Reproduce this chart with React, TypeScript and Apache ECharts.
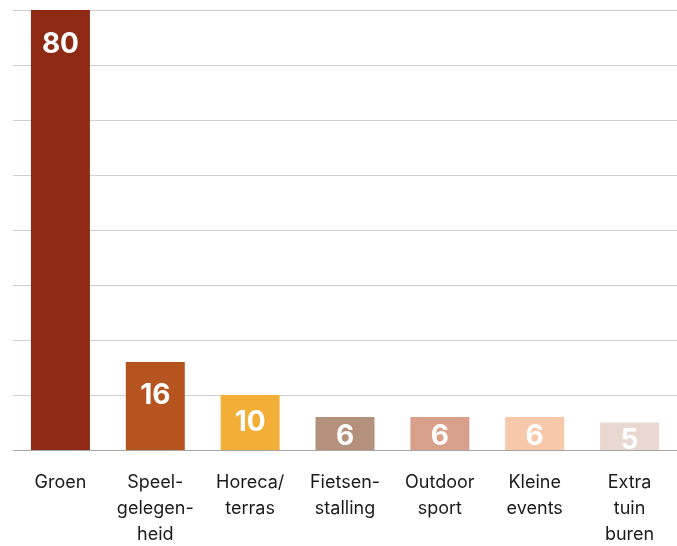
import React, { useEffect, useRef } from "react";
import * as echarts from "echarts";

const categories = [
  "Groen",
  "Speel-\ngelegen-\nheid",
  "Horeca/\nterras",
  "Fietsen-\nstalling",
  "Outdoor\nsport",
  "Kleine\nevents",
  "Extra\ntuin\nburen",
];
const values = [80, 16, 10, 6, 6, 6, 5];
const colors = ["#8E2A14", "#B5541E", "#F2AE36", "#B3917D", "#D8A08A", "#F7C8AA", "#E8D8D0"];
const labelDistances = [19, 18, 12, 4, 4, 4, 2];

export default function App() {
  const ref = useRef<HTMLDivElement>(null);
  useEffect(() => {
    if (!ref.current) return;
    const chart = echarts.init(ref.current, undefined, { renderer: "svg" });
    chart.setOption({
      animation: false,
      grid: { left: 13, width: 671, top: 10, height: 447, containLabel: false },
      xAxis: {
        type: "category",
        data: categories,
        axisTick: { show: false },
        axisLine: { lineStyle: { color: "#a6a6a6", width: 1 } },
        axisLabel: {
          interval: 0,
          fontFamily: "Inter",
          fontSize: 18,
          lineHeight: 26,
          color: "#1a1a1a",
          margin: 18,
          verticalAlign: "top",
        },
      },
      yAxis: {
        type: "value",
        min: 0,
        max: 80,
        interval: 10,
        axisLabel: { show: false },
        axisLine: { show: false },
        axisTick: { show: false },
        splitLine: { lineStyle: { color: "#cfcfcf", width: 1 } },
      },
      series: [
        {
          type: "bar",
          barWidth: 59,
          data: values.map((v, i) => ({
            value: v,
            itemStyle: { color: colors[i] },
            label: {
              show: true,
              position: "insideTop",
              distance: labelDistances[i],
              color: "#ffffff",
              fontFamily: "Inter",
              fontWeight: "bold",
              fontSize: 28,
            },
          })),
        },
      ],
    });
    return () => chart.dispose();
  }, []);
  return <div ref={ref} style={{ position: "fixed", left: 0, top: 0, width: 677, height: 546 }} />;
}
